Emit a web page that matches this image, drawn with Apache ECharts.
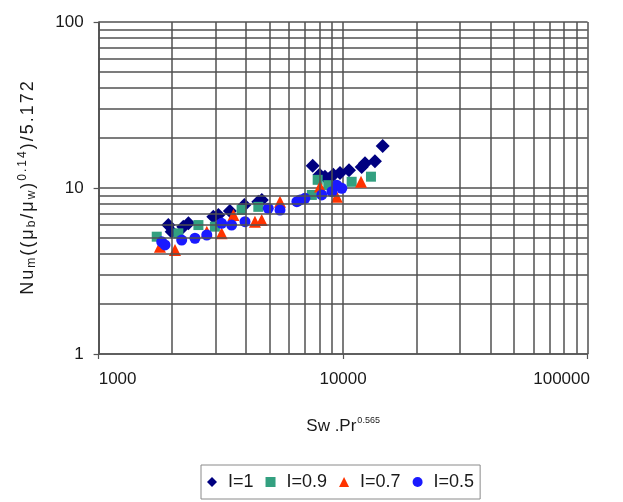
<!DOCTYPE html>
<html>
<head>
<meta charset="utf-8">
<script src="https://cdn.jsdelivr.net/npm/echarts@6/dist/echarts.min.js"></script>
<style>html,body{margin:0;padding:0;background:#fff;}#chart{width:623px;height:502px;}</style>
</head>
<body>
<div id="chart"></div>
<script>
// Data (x = Sw.Pr^0.565, y = Nu_m((mu_b/mu_w)^0.14)/5.172)
var seriesNames = ['I=1', 'I=0.9', 'I=0.7', 'I=0.5'];
var i1X = [1928, 1990, 2220, 2330, 2945, 3090, 3443, 3946, 4500, 4650, 7510, 8010, 8430, 8800, 9120, 9710, 10570, 11910, 12290, 13500, 14520];
var i1Y = [5.98, 5.45, 5.85, 6.13, 6.72, 6.88, 7.27, 7.9, 8.27, 8.47, 13.6, 12.0, 11.7, 11.4, 12.0, 12.3, 12.8, 13.4, 14.1, 14.5, 17.9];
var i09X = [1729, 2119, 2560, 2990, 3845, 4500, 7450, 7870, 8700, 10840, 13000];
var i09Y = [5.09, 5.33, 5.98, 5.85, 7.37, 7.7, 9.08, 11.2, 10.4, 10.9, 11.7];
var i07X = [1782, 2053, 2770, 3185, 3560, 4360, 4645, 5520, 8044, 9420, 11840];
var i07Y = [4.43, 4.23, 5.45, 5.33, 6.88, 6.27, 6.42, 8.27, 10.2, 8.87, 10.9];
var i05X = [1812, 1869, 2187, 2478, 2770, 3185, 3500, 3970, 4943, 5520, 6470, 6670, 6980, 8175, 9000, 9420, 9880];
var i05Y = [4.74, 4.54, 4.86, 4.98, 5.21, 6.13, 5.98, 6.27, 7.54, 7.37, 8.27, 8.47, 8.67, 9.08, 9.5, 10.4, 9.96];
var xTickLabels = ['1000', '10000', '100000'];
var yTickLabels = ['1', '10', '100'];
var xMinorGrid = [2000, 3000, 4000, 5000, 6000, 7000, 8000, 9000, 20000, 30000, 40000, 50000, 60000, 70000, 80000, 90000];
var yMinorGrid = [2, 3, 4, 5, 6, 7, 8, 9, 20, 30, 40, 50, 60, 70, 80, 90];
// y-axis title pieces: [style, text]
var yTitleParts = [['a', 'Nu'], ['sub', 'm'], ['a', '((μ'], ['sub', 'b'], ['a', '/μ'], ['sub', 'w'], ['a', ')'], ['sup', '0.14'], ['a', ')/5.172']];

function zip(xs, ys) { return xs.map(function (x, i) { return [x, ys[i]]; }); }
function spacedRich(parts) {
  return parts.map(function (p) {
    return p[1].split('').map(function (c) { return '{' + p[0] + '|' + c + '}'; }).join('');
  }).join('');
}

var FONT = '"Liberation Sans", Arial, sans-serif';
var TXT = '#1a1a1a';
var gridColor = '#505050';
var chart = echarts.init(document.getElementById('chart'), null, { renderer: 'canvas' });

var minorLines = [];
xMinorGrid.forEach(function (v) { minorLines.push({ xAxis: v }); });
yMinorGrid.forEach(function (v) { minorLines.push({ yAxis: v }); });

var option = {
  backgroundColor: '#ffffff',
  animation: false,
  textStyle: { fontFamily: FONT },
  grid: { left: 98.6, right: 35.4, top: 22, bottom: 148, containLabel: false },
  xAxis: {
    type: 'log', logBase: 10, min: 1000, max: 100000,
    name: '{a|Sw .Pr}{sup|0.565}',
    nameLocation: 'middle', nameGap: 62,
    nameTextStyle: {
      rich: {
        a: { fontFamily: FONT, fontSize: 17, color: TXT, lineHeight: 20 },
        sup: { fontFamily: FONT, fontSize: 9, color: TXT, lineHeight: 20, padding: [0, 0, 10, 1] }
      }
    },
    axisLine: { show: true, lineStyle: { color: '#555', width: 1.5 } },
    axisTick: { show: true, length: 5, lineStyle: { color: '#555', width: 1.2 } },
    axisLabel: {
      fontFamily: FONT, fontSize: 17, color: TXT, margin: 17,
      formatter: function (v) {
        var s = xTickLabels[Math.round(Math.log10(v)) - 3];
        if (v <= 1000) return '{l|' + s + '}';
        if (v >= 100000) return '{r|' + s + '}';
        return '{c|' + s + '}';
      },
      rich: {
        l: { fontFamily: FONT, fontSize: 17, color: TXT, padding: [0, 0, 0, 38] },
        r: { fontFamily: FONT, fontSize: 17, color: TXT, padding: [0, 52, 0, 0] },
        c: { fontFamily: FONT, fontSize: 17, color: TXT }
      }
    },
    splitLine: { show: true, lineStyle: { color: gridColor, width: 1.5 } }
  },
  yAxis: {
    type: 'log', logBase: 10, min: 1, max: 100,
    name: spacedRich(yTitleParts),
    nameLocation: 'middle', nameRotate: 90, nameGap: 60,
    nameTextStyle: {
      rich: {
        a: { fontFamily: FONT, fontSize: 18, color: TXT, lineHeight: 22, padding: [0, 1, 0, 1] },
        sub: { fontFamily: FONT, fontSize: 12, color: TXT, lineHeight: 22, padding: [9, 1, 0, 1] },
        sup: { fontFamily: FONT, fontSize: 12, color: TXT, lineHeight: 22, padding: [0, 1, 9, 1] }
      }
    },
    axisLine: { show: true, lineStyle: { color: '#555', width: 1.5 } },
    axisTick: { show: true, length: 5, lineStyle: { color: '#555', width: 1.2 } },
    axisLabel: {
      fontFamily: FONT, fontSize: 17, color: TXT, margin: 15,
      formatter: function (v) { return yTickLabels[Math.round(Math.log10(v))]; }
    },
    splitLine: { show: true, lineStyle: { color: gridColor, width: 1.5 } }
  },
  legend: {
    left: 201, top: 465,
    orient: 'horizontal',
    borderColor: '#8a8a8a', borderWidth: 1, borderRadius: 0,
    padding: [8, 6, 8, 6],
    itemGap: 12, itemWidth: 10, itemHeight: 10,
    textStyle: { fontFamily: FONT, fontSize: 18, color: TXT, padding: [0, 0, 0, 6] },
    data: [
      { name: seriesNames[0], icon: 'diamond' },
      { name: seriesNames[1], icon: 'rect' },
      { name: seriesNames[2], icon: 'triangle' },
      { name: seriesNames[3], icon: 'circle' }
    ]
  },
  series: [
    {
      type: 'line', name: '_grid', data: [], silent: true, legendHoverLink: false,
      markLine: {
        silent: true, symbol: ['none', 'none'], animation: false,
        label: { show: false },
        lineStyle: { color: gridColor, width: 1.5, type: 'solid' },
        emphasis: { disabled: true },
        data: minorLines
      }
    },
    { type: 'scatter', name: seriesNames[0], symbol: 'diamond', symbolSize: 14, itemStyle: { color: '#000080', opacity: 1 }, data: zip(i1X, i1Y) },
    { type: 'scatter', name: seriesNames[1], symbol: 'rect', symbolSize: 10, itemStyle: { color: '#33a080', opacity: 1 }, data: zip(i09X, i09Y) },
    { type: 'scatter', name: seriesNames[2], symbol: 'triangle', symbolSize: 12, itemStyle: { color: '#ff3300', opacity: 1 }, data: zip(i07X, i07Y) },
    { type: 'scatter', name: seriesNames[3], symbol: 'circle', symbolSize: 11, itemStyle: { color: '#1a1aff', opacity: 1 }, data: zip(i05X, i05Y) }
  ]
};
chart.setOption(option);
</script>
</body>
</html>
